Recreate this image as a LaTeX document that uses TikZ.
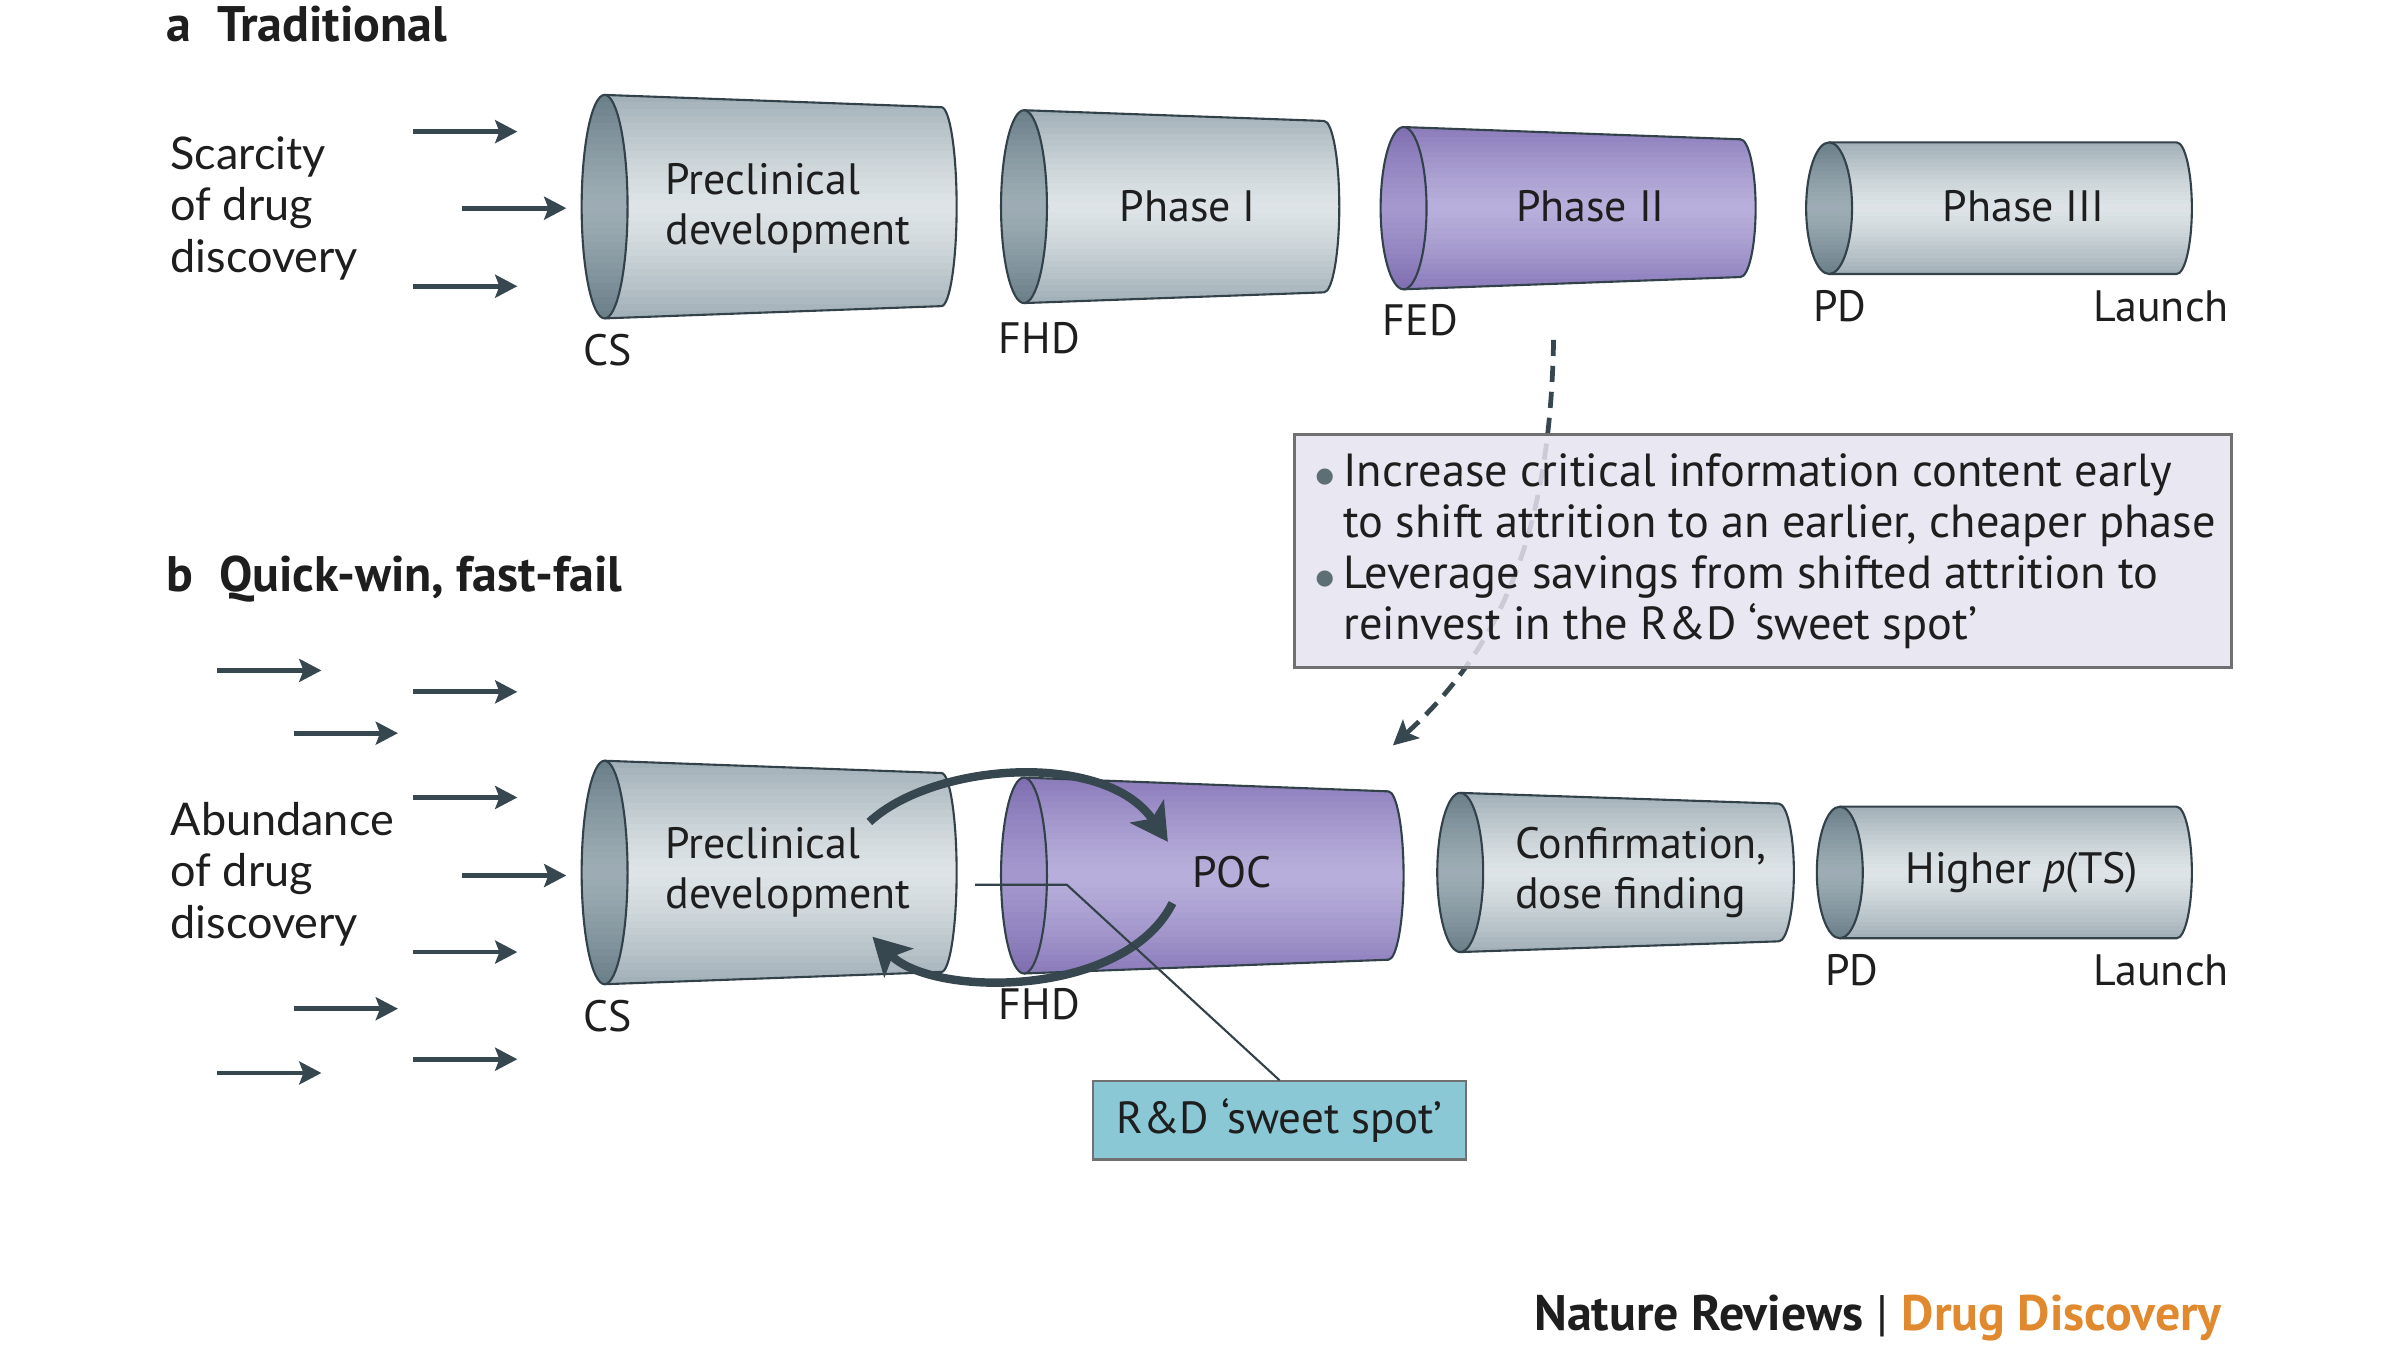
\documentclass[tikz,border=0pt]{standalone}
\usepackage{fontspec}
\setmainfont{PT Sans}
\newfontfamily\sidefont{Lato}
\newfontfamily\dejavu{DejaVu Sans}
\usetikzlibrary{arrows.meta}
\definecolor{outl}{HTML}{33424A}
\definecolor{gtop}{HTML}{A0AFB6}
\definecolor{gmid}{HTML}{DEE4E7}
\definecolor{getop}{HTML}{6A7E88}
\definecolor{gemid}{HTML}{9DADB4}
\definecolor{ptop}{HTML}{8A7BBA}
\definecolor{pmid}{HTML}{B8AFDB}
\definecolor{petop}{HTML}{7E6EB0}
\definecolor{pemid}{HTML}{A498CE}
\definecolor{slate}{HTML}{37474F}
\definecolor{infofill}{HTML}{E5E3EF}
\definecolor{infodraw}{HTML}{707070}
\definecolor{rdfill}{HTML}{8BC8D6}
\definecolor{natorange}{HTML}{E0892E}
\definecolor{txt}{HTML}{1E1E1E}
\definecolor{bulc}{HTML}{5E6E75}
\def\pxu{0.43550pt}
% vertical band shading: #1 x0, #2 x1, #3 y0, #4 y1, #5 edge colour, #6 middle colour
\newcommand{\bands}[6]{%
  \foreach \k in {0,...,31}{%
    \pgfmathsetmacro\ya{(#3)+((#4)-(#3))*\k/32}%
    \pgfmathsetmacro\yb{(#3)+((#4)-(#3))*(\k+1.4)/32}%
    \pgfmathsetmacro\ff{min(100,100*abs((\k+0.5)/16-1)^1.3)}%
    \fill[#5!\ff!#6] ({#1},{\ya}) rectangle ({#2},{\yb});
  }%
}
% cylinder: #1 cx, #2 cy, #3 left radius, #4 right extreme x, #5 right radius, #6 g/p
\newcommand{\cyl}[6]{%
  \begin{scope}
    \clip (#1,{#2-#3}) -- ({#4-10},{#2-#5}) arc[start angle=-90,end angle=90,x radius=10,y radius=#5] -- (#1,{#2+#3}) -- cycle;
    \bands{#1}{#4+1}{#2-#3}{#2+#3}{#6top}{#6mid}
  \end{scope}
  \path[cylline] (#1,{#2-#3}) -- ({#4-10},{#2-#5}) arc[start angle=-90,end angle=90,x radius=10,y radius=#5] -- (#1,{#2+#3});
  \begin{scope}
    \clip (#1,#2) ellipse [x radius=15,y radius=#3];
    \bands{#1-16}{#1+16}{#2-#3}{#2+#3}{#6etop}{#6emid}
  \end{scope}
  \path[cylline] (#1,#2) ellipse [x radius=15,y radius=#3];
}
\newcommand{\bul}{\makebox[7.9pt][l]{\textcolor{bulc}{\raisebox{1.1pt}{\dejavu\fontsize{6}{6}\selectfont ●}}}}
\begin{document}
\begin{tikzpicture}[x=0.0153061cm,y=-0.0153061cm,
  cylline/.style={draw=outl,line width=0.6pt},
  lbl/.style={text=txt,font=\fontsize{12.5}{14.4}\selectfont,inner sep=0pt},
  side/.style={text=txt,font=\sidefont\fontsize{12.8}{14.6}\selectfont,inner sep=0pt,align=left,anchor=west},
  head/.style={text=txt,font=\bfseries\fontsize{14.2}{16}\selectfont,inner sep=0pt,anchor=west},
  entry/.style={draw=slate,line width=1.35pt,-{Stealth[length=6.3pt,width=6.5pt,inset=1.2pt]}},
  looparrow/.style={draw=slate,line width=2.4pt,-{Stealth[length=10.5pt,width=11.5pt,inset=2.5pt]}},
  dasharrow/.style={draw=slate,line width=1.35pt,dash pattern=on 4.6pt off 2.8pt,-{Stealth[length=7pt,width=7pt,inset=1.5pt]}},
  infobox/.style={draw=infodraw,line width=0.8pt,fill=infofill,fill opacity=0.85,anchor=north west,minimum width=612*\pxu,minimum height=152*\pxu,inner sep=0pt},
  rdbox/.style={draw=infodraw,line width=0.6pt,fill=rdfill,minimum width=244*\pxu,minimum height=51*\pxu,inner sep=0pt,text=txt,font=\fontsize{12.8}{14.4}\selectfont}
]
\useasboundingbox (0,0) rectangle (1568,882);

% ---------------- headings
\node[head] (ha) at (108,16) {a\hspace{7.5pt}Traditional};
\node[head] (hb) at (108,378) {b\hspace{7.5pt}Quick-win, fast-fail};

% ---------------- panel a
\node[side] (scar) at (111,136) {Scarcity\\of drug\\discovery};
\foreach \i/\xa/\xb/\yy in {1/270/338/86,2/302/370/136,3/270/338/187}{
  \coordinate (aa\i) at (\xa,\yy);
  \coordinate (ab\i) at (\xb,\yy);
  \draw[entry] (aa\i) -- (ab\i);
}
\cyl{395}{135}{73}{625}{65}{g}
\cyl{669}{135}{63}{875}{56}{g}
\cyl{917}{136}{53}{1147}{45}{p}
\cyl{1195}{136}{43}{1432}{43}{g}
\node[lbl,align=left] (preA) at (515,136) {Preclinical\\development};
\node[lbl] (ph1) at (776,135) {Phase I};
\node[lbl] (ph2) at (1039,135) {Phase II};
\node[lbl] (ph3) at (1322,135) {Phase III};
\node[lbl] (csA) at (397,229) {CS};
\node[lbl] (fhdA) at (679,221) {FHD};
\node[lbl] (fed) at (928,209) {FED};
\node[lbl] (pdA) at (1202,200) {PD};
\node[lbl] (launchA) at (1412,200) {Launch};

% ---------------- dashed arrow and info box
\coordinate (dstart) at (1015,222);
\coordinate (dend) at (910,487);
\draw[dasharrow] (dstart) .. controls (1013,330) and (990,415) .. (dend);
\node[infobox] (info) at (845,283) {};
\node[text=txt,font=\fontsize{13.2}{14.5}\selectfont,inner sep=0pt,align=left,anchor=west] (infotext) at (859,360) {%
\bul Increase critical information content early\\
\hspace*{7.9pt}to shift attrition to an earlier, cheaper phase\\
\bul Leverage savings from shifted attrition to\\
\hspace*{7.9pt}reinvest in the R\&D ‘sweet spot’};

% ---------------- panel b
\node[side] (abund) at (111,571) {Abundance\\of drug\\discovery};
\foreach \i/\xa/\xb/\yy in {1/142/210/438,2/270/338/452,3/192/260/479,4/270/338/521,5/302/370/572,6/270/338/622,7/192/260/659,8/270/338/692,9/142/210/701}{
  \coordinate (ba\i) at (\xa,\yy);
  \coordinate (bb\i) at (\xb,\yy);
  \draw[entry] (ba\i) -- (bb\i);
}
\cyl{395}{570}{73}{625}{65}{g}
\cyl{669}{572}{64}{917}{55}{p}
\cyl{954}{570}{52}{1172}{45}{g}
\cyl{1202}{570}{43}{1432}{43}{g}
\node[lbl,align=left] (preB) at (515,570) {Preclinical\\development};
\node[lbl] (poc) at (805,570) {POC};
\node[lbl,align=left] (conf) at (1072,570) {Confirmation,\\dose finding};
\node[lbl] (higher) at (1321,570) {Higher \textit{p}(TS)};
\node[lbl] (csB) at (397,664) {CS};
\node[lbl] (fhdB) at (679,656) {FHD};
\node[lbl] (pdB) at (1210,634) {PD};
\node[lbl] (launchB) at (1412,634) {Launch};

% loop arrows
\coordinate (lu1) at (568,537);
\coordinate (lu2) at (763,550);
\coordinate (ll1) at (766,590);
\coordinate (ll2) at (570,612);
\draw[looparrow] (lu1) .. controls (610,498) and (722,490) .. (lu2);
\draw[looparrow] (ll1) .. controls (735,652) and (610,652) .. (ll2);

% sweet spot
\node[rdbox] (rd) at (836,732) {R\&D ‘sweet spot’};
\coordinate (sweet) at (637,578);
\coordinate (sweetb) at (697,578);
\draw[outl,line width=0.6pt] (sweet) -- (sweetb) -- (rd.north);

% footer
\node[anchor=east,inner sep=0pt,font=\fontsize{14.2}{16}\selectfont] (footer) at (1452,861)
  {\textcolor{txt}{\bfseries Nature Reviews} \textcolor{txt}{|} \textcolor{natorange}{\bfseries Drug Discovery}};
\end{tikzpicture}
\end{document}
